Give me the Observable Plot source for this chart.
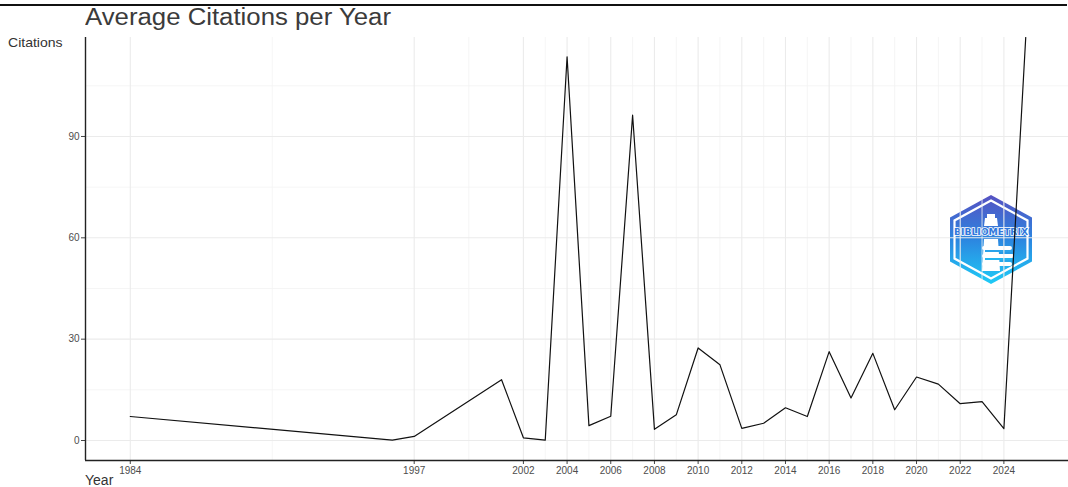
<!DOCTYPE html>
<html><head><meta charset="utf-8">
<script src="https://cdn.jsdelivr.net/npm/d3@7"></script>
<script src="https://cdn.jsdelivr.net/npm/@observablehq/plot@0.6"></script>
<style>
body{margin:0;background:#fff;font-family:"Liberation Sans",Arial,sans-serif;}
#wrap{position:relative;width:1068px;height:487px;overflow:hidden;background:#fff;}
#topline{position:absolute;left:0;top:4px;width:1067px;height:1.5px;background:#111;}
#title{position:absolute;left:85px;top:4px;font-size:23px;color:#3b3b3b;white-space:nowrap;transform-origin:0 0;transform:scaleX(1.12);}
#ylab{position:absolute;left:8px;top:35px;font-size:13px;color:#333;white-space:nowrap;transform-origin:0 0;transform:scaleX(1.08);}
#xlab{position:absolute;left:85px;top:472px;font-size:14px;color:#333;white-space:nowrap;}
#logo{position:absolute;left:948px;top:195px;}
#chart{position:absolute;left:0;top:0;}
#chart svg{background:transparent !important;}
</style></head><body>
<div id="wrap">
  <div id="topline"></div>
  <div id="title">Average Citations per Year</div>
  <div id="ylab">Citations</div>
  <div id="xlab">Year</div>
  <svg id="logo" width="86" height="89" viewBox="0 0 86 89">
    <defs>
      <linearGradient id="g1" x1="0" y1="0" x2="0" y2="1">
        <stop offset="0" stop-color="#5651c2"/>
        <stop offset="0.5" stop-color="#2c86e0"/>
        <stop offset="1" stop-color="#1ecbf6"/>
      </linearGradient>
    </defs>
    <polygon points="43,0 84,22.5 84,66.5 43,89 2,66.5 2,22.5" fill="url(#g1)"/>
    <polygon points="43,5.5 79.5,25.5 79.5,63.5 43,83.5 6.5,63.5 6.5,25.5" fill="none" stroke="#fff" stroke-width="2.2"/>
    <rect x="39" y="19" width="8" height="4" fill="#fff"/>
    <polygon points="37,23 49,23 50,31 36,31" fill="#fff"/>
    <text x="43" y="40" text-anchor="middle" font-family="DejaVu Sans, sans-serif" font-weight="bold" font-size="9.5" textLength="74" lengthAdjust="spacingAndGlyphs" fill="#2f78dc" stroke="#fff" stroke-width="1.6" paint-order="stroke">BIBLIOMETRIX</text>
    <polygon points="36,44 50,44 52,76 34,76" fill="#fff"/>
    <rect x="34" y="51" width="30" height="4" rx="2" fill="#fff"/>
    <rect x="34" y="59" width="32" height="4" rx="2" fill="#fff"/>
    <rect x="34" y="67" width="30" height="4" rx="2" fill="#fff"/>
    <rect x="37" y="55" width="27" height="2" fill="#2ba3ea"/>
    <rect x="37" y="63" width="27" height="2" fill="#24b4ef"/>
  </svg>
  <div id="chart"></div>
</div>
<script>
const years = [1984, 1996, 1997, 2001, 2002, 2003, 2004, 2005, 2006, 2007, 2008, 2009, 2010, 2011, 2012, 2013, 2014, 2015, 2016, 2017, 2018, 2019, 2020, 2021, 2022, 2023, 2024, 2025];
const citations = [7.1, 0.1, 1.2, 18.0, 0.8, 0.1, 113.6, 4.4, 7.2, 96.3, 3.3, 7.6, 27.4, 22.4, 3.6, 5.1, 9.7, 7.1, 26.3, 12.6, 25.8, 9.1, 18.8, 16.7, 10.9, 11.5, 3.5, 119.3];
const xTickYears = [1984, 1997, 2002, 2004, 2006, 2008, 2010, 2012, 2014, 2016, 2018, 2020, 2022, 2024];
const xMinorYears = [1990.5, 1999.5, 2003, 2005, 2007, 2009, 2011, 2013, 2015, 2017, 2019, 2021, 2023];
const yTicks = [0, 30, 60, 90];
const yMinor = [15, 45, 75, 105];

const data = years.map((y, i) => ({year: y, value: citations[i]}));
const xDomain = [1981.95, 2027.05];
const yDomain = [-5.92, 119.3];

const chart = Plot.plot({
  width: 1068,
  height: 487,
  marginLeft: 85,
  marginRight: 0,
  marginTop: 37,
  marginBottom: 27,
  style: {background: "transparent", fontFamily: "Liberation Sans, Arial, sans-serif"},
  x: {domain: xDomain, range: [85, 1070], axis: null},
  y: {domain: yDomain, axis: null},
  marks: [
    Plot.ruleY(yMinor, {stroke: "#f3f3f3", strokeWidth: 0.8}),
    Plot.ruleX(xMinorYears, {stroke: "#f3f3f3", strokeWidth: 0.8}),
    Plot.ruleY(yTicks, {stroke: "#ebebeb", strokeWidth: 1.1}),
    Plot.ruleX(xTickYears, {stroke: "#ebebeb", strokeWidth: 1.1}),
    Plot.line(data, {x: "year", y: "value", stroke: "#111", strokeWidth: 1.2, clip: true}),
    Plot.axisX({ticks: xTickYears, tickFormat: d => String(d), tickSize: 4, tickPadding: 2, stroke: "#444", fill: "#4d4d4d", fontSize: 10, label: null}),
    Plot.axisY({ticks: yTicks, tickSize: 4, tickPadding: 2, stroke: "#444", fill: "#4d4d4d", fontSize: 10, label: null}),
    Plot.ruleY([yDomain[0]], {stroke: "#222", strokeWidth: 1.4}),
    Plot.ruleX([xDomain[0]], {stroke: "#222", strokeWidth: 1.4})
  ]
});
document.getElementById("chart").appendChild(chart);
</script>
</body></html>
